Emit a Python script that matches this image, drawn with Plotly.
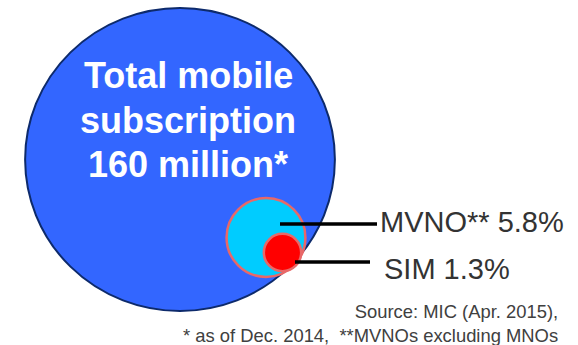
import math
import plotly.graph_objects as go

# ---------------- data ----------------
TOTAL_MILLIONS = 160
SEGMENTS = ["MVNO", "SIM"]
SHARES_PCT = [5.8, 1.3]
SEGMENT_LABELS = ["MVNO** 5.8%", "SIM 1.3%"]
TITLE_LINES = ["Total mobile", "subscription", "160 million*"]
FOOTNOTE_LINES = ["Source: MIC (Apr. 2015),", "* as of Dec. 2014,&nbsp; **MVNOs excluding MNOs"]

# ---------------- layout / style ----------------
W, H = 578, 345
FONT = "Arial, Liberation Sans, sans-serif"
BIG_CENTER = (180, 159.5)
PX_PER_SQRT_MILLION = 12.1          # bubble radius scale (area-proportional)
STRETCH = (1.012, 0.99)             # slight ellipse of the original drawing
INSET_SCALE = 1.07                  # inset bubbles drawn slightly enlarged
INSET_CENTERS = [(266, 237.5), (282.5, 252.5)]
INSET_FILLS = ["#00CCFF", "#FF0000"]
INSET_LINE = "#E86868"
LEADERS = [((280, 224), (377, 224)), ((295, 262), (370, 262))]
LABEL_POS = [(378, 222), (382, 269)]
TITLE_CENTER_X = 188
TITLE_LINE_Y = [75.5, 120, 164.5]

R_big = PX_PER_SQRT_MILLION * math.sqrt(TOTAL_MILLIONS)

fig = go.Figure()
# invisible trace so the axes exist
fig.add_trace(go.Scatter(x=[0, W], y=[0, H], mode="markers",
                         marker=dict(opacity=0), hoverinfo="skip", showlegend=False))

shapes = []
cx, cy = BIG_CENTER
shapes.append(dict(type="circle", xref="x", yref="y",
                   x0=cx - R_big * STRETCH[0], x1=cx + R_big * STRETCH[0],
                   y0=cy - R_big * STRETCH[1], y1=cy + R_big * STRETCH[1],
                   fillcolor="#3366FF", line=dict(color="#0D2A6B", width=2), layer="above"))

for share, (ix, iy), fill in zip(SHARES_PCT, INSET_CENTERS, INSET_FILLS):
    r = R_big * math.sqrt(share / 100.0) * INSET_SCALE
    shapes.append(dict(type="circle", xref="x", yref="y",
                       x0=ix - r, x1=ix + r, y0=iy - r, y1=iy + r,
                       fillcolor=fill, line=dict(color=INSET_LINE, width=2.5), layer="above"))

for (p0, p1) in LEADERS:
    shapes.append(dict(type="line", xref="x", yref="y",
                       x0=p0[0], y0=p0[1], x1=p1[0], y1=p1[1],
                       line=dict(color="#000000", width=3.5), layer="above"))

annotations = []
for line, ty in zip(TITLE_LINES, TITLE_LINE_Y):
    annotations.append(dict(x=TITLE_CENTER_X, y=ty, xref="x", yref="y", text="<b>%s</b>" % line,
                            showarrow=False, xanchor="center", yanchor="middle",
                            font=dict(family=FONT, size=36, color="#FFFFFF")))

for label, (lx, ly) in zip(SEGMENT_LABELS, LABEL_POS):
    annotations.append(dict(x=lx, y=ly, xref="x", yref="y", text=label, showarrow=False,
                            xanchor="left", yanchor="middle",
                            font=dict(family=FONT, size=29, color="#333333")))

annotations.append(dict(x=560, y=323, xref="x", yref="y", text="<br>".join(FOOTNOTE_LINES),
                        showarrow=False, xanchor="right", yanchor="middle", align="right",
                        font=dict(family=FONT, size=18.4, color="#404040")))

fig.update_layout(
    width=W, height=H,
    margin=dict(l=0, r=0, t=0, b=0),
    paper_bgcolor="white", plot_bgcolor="white",
    xaxis=dict(range=[0, W], visible=False, fixedrange=True),
    yaxis=dict(range=[H, 0], visible=False, fixedrange=True),
    shapes=shapes, annotations=annotations, showlegend=False,
)

fig.write_html("out.html", config={"displayModeBar": False})
